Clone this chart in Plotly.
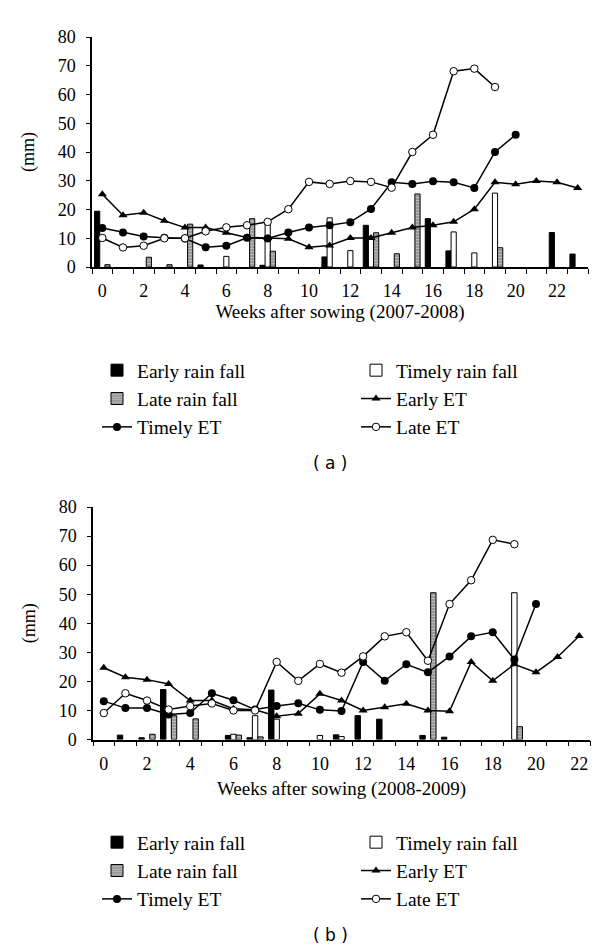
import plotly.graph_objects as go

# ---------------- data (a) 2007-2008 ----------------
weeks_a = list(range(24))
early_rain_a = [19.4, None, None, None, None, 0.7, None, None, 0.6, None, None, 3.5,
                None, 14.5, None, None, 16.8, 5.6, None, None, None, None, 12.0, 4.5]
timely_rain_a = [None, None, None, None, None, None, 3.7, None, 15.1, None, None, 17.1,
                 5.7, 10.0, None, None, None, 12.2, 4.9, 25.7, None, None, None, None]
late_rain_a = [0.8, None, 3.4, 0.8, 14.9, None, None, 16.8, 5.5, None, None, None,
               None, 11.9, 4.6, 25.4, None, None, None, 6.7, None, None, None, None]
early_et_a = [25.3, 18.0, 18.9, 16.1, 13.7, 13.7, 11.9, 10.3, 10.1, 9.8, 6.9, 7.5,
              10.1, 10.1, 11.9, 13.7, 14.5, 15.7, 20.1, 29.5, 28.8, 29.9, 29.5, 27.5]
timely_et_a = [13.6, 12.0, 10.6, 10.2, 9.9, 6.9, 7.4, 10.2, 9.9, 12.0, 13.7, 14.5,
               15.6, 20.2, 29.5, 28.9, 29.8, 29.5, 27.5, 40.0, 46.0]
late_et_a = [10.1, 6.8, 7.4, 10.0, 10.0, 12.4, 13.8, 14.5, 15.7, 20.1, 29.6, 28.9,
             29.9, 29.6, 27.6, 40.0, 46.0, 68.1, 69.0, 62.6]

# ---------------- data (b) 2008-2009 ----------------
weeks_b = list(range(23))
early_rain_b = [None, 1.5, 0.6, 17.2, None, None, 1.4, 0.6, 17.0, None, None, 1.6,
                8.2, 7.0, None, 1.4, 0.8, None, None, None, None, None, None]
timely_rain_b = [None, None, None, None, None, None, 1.8, 8.2, 7.0, None, 1.4, 1.0,
                 None, None, None, None, None, None, None, 50.5, None, None, None]
late_rain_b = [None, None, 1.8, 8.2, 7.1, None, 1.5, 0.9, None, None, None, None,
               None, None, None, 50.5, None, None, None, 4.4, None, None, None]
early_et_b = [24.7, 21.4, 20.6, 19.1, 13.4, 13.4, 10.6, 10.2, 8.0, 8.9, 15.7, 13.4,
              10.0, 11.1, 12.3, 10.0, 9.7, 26.7, 20.2, 25.9, 23.1, 28.4, 35.6]
timely_et_b = [13.2, 10.8, 10.8, 8.6, 9.1, 15.9, 13.5, 10.3, 11.5, 12.5, 10.2, 9.8,
               26.7, 20.2, 25.9, 23.1, 28.6, 35.5, 36.9, 27.5, 46.6]
late_et_b = [9.1, 15.9, 13.4, 10.3, 11.5, 12.4, 10.0, 10.0, 26.7, 20.2, 26.0, 23.0,
             28.6, 35.5, 36.9, 27.1, 46.6, 54.8, 68.7, 67.2]

names = ["Early rain fall", "Timely rain fall", "Late rain fall",
         "Early ET", "Timely ET", "Late ET"]
titles = ["Weeks after sowing (2007-2008)", "Weeks after sowing (2008-2009)"]
panel_labels = ["( a )", "( b )"]

SERIF = "Liberation Serif"
fig = go.Figure()

def add_panel(idx, weeks, er, tr, lr, ee, te, le):
    xa = "x" if idx == 0 else "x2"
    ya = "y" if idx == 0 else "y2"
    lg = "legend" if idx == 0 else "legend2"
    bar_styles = [
        dict(color="black", line=dict(color="black", width=1)),
        dict(color="white", line=dict(color="black", width=1)),
        dict(color="#9a9a9a", line=dict(color="black", width=1),
             pattern=dict(shape="-", bgcolor="#9a9a9a", fgcolor="#d8d8d8",
                          size=3, solidity=0.35)),
    ]
    for name, vals, st in zip(names[:3], [er, tr, lr], bar_styles):
        fig.add_trace(go.Bar(x=weeks, y=vals, name=name, marker=st,
                             xaxis=xa, yaxis=ya, legend=lg))
    line_styles = [
        dict(symbol="triangle-up", size=8, color="black"),
        dict(symbol="circle", size=8, color="black"),
        dict(symbol="circle", size=7.5, color="white",
             line=dict(color="black", width=1)),
    ]
    for name, vals, st in zip(names[3:], [ee, te, le], line_styles):
        fig.add_trace(go.Scatter(x=weeks[:len(vals)], y=vals, name=name,
                                 mode="lines+markers",
                                 line=dict(color="black", width=1.5),
                                 marker=st, xaxis=xa, yaxis=ya, legend=lg))

add_panel(0, weeks_a, early_rain_a, timely_rain_a, late_rain_a,
          early_et_a, timely_et_a, late_et_a)
add_panel(1, weeks_b, early_rain_b, timely_rain_b, late_rain_b,
          early_et_b, timely_et_b, late_et_b)

H = 946.0

def xaxis_cfg(weeks, title, dom, anchor, tstand):
    bounds = [w - 0.5 for w in weeks] + [weeks[-1] + 0.5]
    return dict(domain=dom, anchor=anchor, range=[weeks[0] - 0.5, weeks[-1] + 0.5],
                tickmode="array", tickvals=weeks[::2],
                ticktext=[str(w) for w in weeks[::2]],
                ticks="", showgrid=False, zeroline=False,
                showline=True, linecolor="black", linewidth=1.5,
                minor=dict(tickmode="array", tickvals=bounds, ticks="outside",
                           ticklen=5, tickwidth=1, tickcolor="black",
                           showgrid=False),
                tickfont=dict(family=SERIF, size=18, color="black"),
                ticklabelstandoff=7,
                title=dict(text=title, font=dict(family=SERIF, size=19, color="black"),
                           standoff=tstand),
                automargin=False, fixedrange=True)

def yaxis_cfg(dom, anchor):
    return dict(domain=dom, anchor=anchor, range=[0, 80], tickmode="linear", tick0=0, dtick=10,
                ticks="outside", ticklen=4, tickwidth=1, tickcolor="black",
                showgrid=False, zeroline=False,
                showline=True, linecolor="black", linewidth=1.5,
                tickfont=dict(family=SERIF, size=18, color="black"),
                ticklabelstandoff=7,
                title=dict(text="(mm)", font=dict(family=SERIF, size=18, color="black"),
                           standoff=18),
                automargin=False, fixedrange=True)

legend_common = dict(orientation="h", entrywidth=214, entrywidthmode="pixels",
                     xanchor="left", yanchor="top", x=89 / 600,
                     font=dict(family=SERIF, size=19.5, color="black"),
                     bgcolor="rgba(0,0,0,0)", traceorder="normal")

fig.update_layout(
    width=600, height=946,
    margin=dict(l=0, r=0, t=0, b=0, autoexpand=False),
    paper_bgcolor="white", plot_bgcolor="white",
    barmode="group", bargap=0.25, bargroupgap=0,
    showlegend=True,
    xaxis=xaxis_cfg(weeks_a, titles[0], [84 / 600, 580 / 600], "y", 4),
    yaxis=yaxis_cfg([1 - 259 / H, 1 - 29 / H], "x"),
    xaxis2=xaxis_cfg(weeks_b, titles[1], [85 / 600, 582 / 600], "y2", 9),
    yaxis2=yaxis_cfg([1 - 731.5 / H, 1 - 499 / H], "x2"),
    legend=dict(legend_common, y=1 - 343 / H),
    legend2=dict(legend_common, y=1 - 815 / H),
    annotations=[
        dict(text=panel_labels[0], x=322 / 600, y=1 - 455 / H, xref="paper", yref="paper",
             yanchor="middle", showarrow=False,
             font=dict(family="DejaVu Sans", size=17, color="black")),
        dict(text=panel_labels[1], x=322 / 600, y=1 - 927 / H, xref="paper", yref="paper",
             yanchor="middle", showarrow=False,
             font=dict(family="DejaVu Sans", size=17, color="black")),
    ],
)

fig.write_html("out.html")
